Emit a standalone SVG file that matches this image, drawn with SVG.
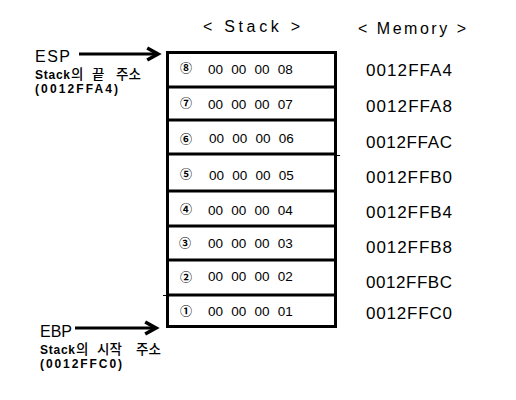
<svg xmlns="http://www.w3.org/2000/svg" width="516" height="400" viewBox="0 0 516 400">
<defs>
<style>
.t{font-family:"Liberation Sans","Noto Sans CJK KR",sans-serif;fill:#000}
.v{font-size:13.5px;word-spacing:4.5px}
.m{font-size:17px}
.c{font-family:"Noto Sans CJK KR","DejaVu Sans",sans-serif;font-size:12px;font-weight:bold;text-anchor:middle}
.lbl{font-size:12px;font-weight:bold;font-family:"Liberation Sans","Noto Sans CJK KR",sans-serif}
.k{font-family:"Noto Sans CJK KR",sans-serif;font-size:13.5px;font-weight:500}
.box{fill:none;stroke:#000;stroke-width:3}
.div{stroke:#000;stroke-width:3}
.arr{stroke:#000;stroke-width:3;fill:none}
</style>
<marker id="ah" markerWidth="6" markerHeight="6" refX="4.2" refY="3" orient="auto" markerUnits="strokeWidth" viewBox="0 0 6 6">
<polyline points="0.6,1 4.2,3 0.6,5" fill="none" stroke="#000" stroke-width="1.2"/>
</marker>
</defs>
<rect width="516" height="400" fill="#fff"/>
<text id="title-stack" class="t" font-size="16" x="203" y="32" textLength="97">&lt; Stack &gt;</text>
<text id="title-memory" class="t" font-size="16" x="358" y="34" textLength="108">&lt; Memory &gt;</text>
<g id="stack">
<rect class="box" x="167.5" y="52.5" width="168" height="274"/>
<line class="div" x1="167" y1="87" x2="336" y2="87"/>
<line class="div" x1="167" y1="120" x2="336" y2="120"/>
<line class="div" x1="167" y1="154" x2="336" y2="154"/>
<line class="div" x1="167" y1="191" x2="336" y2="191"/>
<line class="div" x1="167" y1="226" x2="336" y2="226"/>
<line class="div" x1="167" y1="260" x2="336" y2="260"/>
<line class="div" x1="167" y1="295" x2="336" y2="295"/>
<line stroke="#000" stroke-width="1" x1="336" y1="155.5" x2="340" y2="155.5"/>
<line stroke="#000" stroke-width="1" x1="163" y1="295.5" x2="167" y2="295.5"/>
</g>
<g id="row8"><text class="c" x="186" y="73">⑧</text><text class="t v" x="208" y="74">00 00 00 08</text></g>
<g id="row7"><text class="c" x="186" y="108">⑦</text><text class="t v" x="208" y="109">00 00 00 07</text></g>
<g id="row6"><text class="c" x="186" y="144">⑥</text><text class="t v" x="209" y="143">00 00 00 06</text></g>
<g id="row5"><text class="c" x="186" y="179">⑤</text><text class="t v" x="209" y="180">00 00 00 05</text></g>
<g id="row4"><text class="c" x="186" y="214">④</text><text class="t v" x="208" y="215">00 00 00 04</text></g>
<g id="row3"><text class="c" x="185" y="248">③</text><text class="t v" x="208" y="248">00 00 00 03</text></g>
<g id="row2"><text class="c" x="186" y="282">②</text><text class="t v" x="208" y="281">00 00 00 02</text></g>
<g id="row1"><text class="c" x="186" y="316">①</text><text class="t v" x="208" y="316">00 00 00 01</text></g>
<g id="memory">
<text class="t m" x="366" y="76" textLength="86">0012FFA4</text>
<text class="t m" x="366" y="112" textLength="86">0012FFA8</text>
<text class="t m" x="366" y="148" textLength="86">0012FFAC</text>
<text class="t m" x="366" y="183" textLength="86">0012FFB0</text>
<text class="t m" x="366" y="218" textLength="86">0012FFB4</text>
<text class="t m" x="366" y="253" textLength="86">0012FFB8</text>
<text class="t m" x="366" y="288" textLength="86">0012FFBC</text>
<text class="t m" x="366" y="319" textLength="86">0012FFC0</text>
</g>
<g id="esp">
<text class="t" font-size="16" x="35" y="62" textLength="35">ESP</text>
<text class="lbl" x="35" y="79" textLength="35">Stack</text>
<text class="k" y="79"><tspan x="71">의</tspan><tspan x="92">끝</tspan><tspan x="116">주소</tspan></text>
<text class="lbl" x="35" y="93" textLength="83">(0012FFA4)</text>
</g>
<g id="ebp">
<text class="t" font-size="16" x="40" y="337" textLength="32">EBP</text>
<text class="lbl" x="40" y="354" textLength="35">Stack</text>
<text class="k" y="354"><tspan x="76">의</tspan><tspan x="97">시작</tspan><tspan x="136">주소</tspan></text>
<text class="lbl" x="40" y="368" textLength="82">(0012FFC0)</text>
</g>
<g id="connectors">
<line class="arr" x1="79" y1="54" x2="158" y2="54" marker-end="url(#ah)"/>
<line class="arr" x1="75" y1="328" x2="156" y2="328" marker-end="url(#ah)"/>
</g>
</svg>
